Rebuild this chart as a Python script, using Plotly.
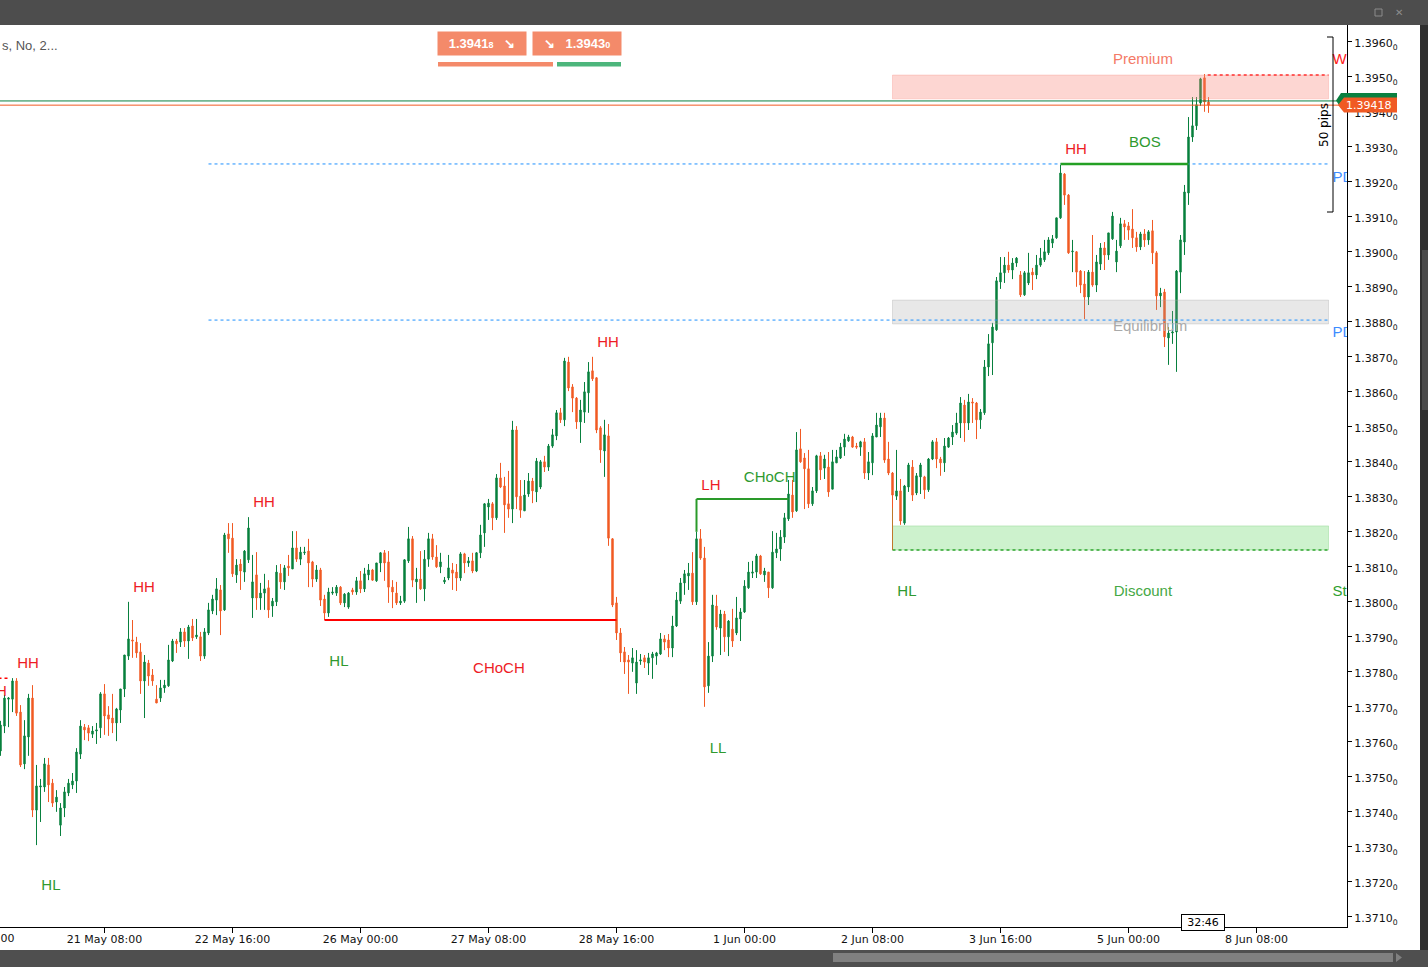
import plotly.graph_objects as go

# ---------------- data ----------------
opens = [
 1.37573,1.37644,1.37721,1.37721,1.37773,1.37684,1.37536,1.37613,1.37724,1.37404,
 1.37470,1.37470,1.37533,1.37481,1.37427,1.37361,1.37410,1.37453,1.37476,1.37487,
 1.37564,1.37641,1.37639,1.37621,1.37630,1.37639,1.37736,1.37676,1.37667,1.37653,
 1.37690,1.37750,1.37844,1.37890,1.37884,1.37856,1.37773,1.37824,1.37790,1.37721,
 1.37724,1.37753,1.37759,1.37830,1.37887,1.37884,1.37913,1.37887,1.37930,1.37899,
 1.37899,1.37844,1.37910,1.37973,1.38004,1.38033,1.37976,1.38193,1.38181,1.38076,
 1.38107,1.38084,1.38119,1.38010,1.38076,1.38010,1.38024,1.38039,1.37987,1.37999,
 1.38081,1.38056,1.38101,1.38093,1.38153,1.38121,1.38139,1.38144,1.38113,1.38064,
 1.38090,1.38007,1.37967,1.38024,1.38024,1.38041,1.37996,1.37984,1.38033,1.38027,
 1.38059,1.38036,1.38076,1.38090,1.38059,1.38110,1.38139,1.38113,1.38041,1.38024,
 1.37996,1.38001,1.38116,1.38179,1.38056,1.38064,1.38036,1.38121,1.38179,1.38127,
 1.38099,1.38056,1.38067,1.38090,1.38084,1.38067,1.38136,1.38110,1.38116,1.38087,
 1.38139,1.38196,1.38270,1.38279,1.38239,1.38353,1.38330,1.38279,1.38264,1.38490,
 1.38301,1.38259,1.38307,1.38344,1.38313,1.38327,1.38399,1.38384,1.38444,1.38473,
 1.38539,1.38519,1.38684,1.38613,1.38581,1.38513,1.38541,1.38596,1.38659,1.38639,
 1.38496,1.38430,1.38473,1.38179,1.37996,1.37910,1.37856,1.37833,1.37824,1.37767,
 1.37830,1.37839,1.37824,1.37839,1.37844,1.37850,1.37893,1.37890,1.37867,1.37930,
 1.38001,1.38053,1.38073,1.38081,1.37999,1.38179,1.38124,1.37759,1.37844,1.37987,
 1.37924,1.37964,1.37899,1.37921,1.37910,1.37950,1.37970,1.38039,1.38081,1.38084,
 1.38130,1.38076,1.38084,1.38039,1.38139,1.38150,1.38184,1.38236,1.38304,1.38259,
 1.38436,1.38410,1.38379,1.38279,1.38316,1.38416,1.38381,1.38384,1.38321,1.38396,
 1.38410,1.38441,1.38459,1.38470,1.38444,1.38441,1.38456,1.38367,1.38396,1.38470,
 1.38499,1.38524,1.38407,1.38367,1.38301,1.38316,1.38224,1.38327,1.38384,1.38310,
 1.38356,1.38356,1.38319,1.38407,1.38456,1.38407,1.38396,1.38441,1.38470,1.38481,
 1.38510,1.38561,1.38510,1.38570,1.38567,1.38519,1.38539,1.38670,1.38739,1.38776,
 1.38913,1.38939,1.38961,1.38947,1.38967,1.38933,1.38876,1.38910,1.38941,1.38933,
 1.38961,1.38976,1.38996,1.39024,1.39039,1.39096,1.39221,1.39161,1.38999,1.38999,
 1.38944,1.38907,1.38870,1.38941,1.38904,1.38964,1.39010,1.38990,1.39036,1.38970,
 1.39016,1.39079,1.39073,1.39064,1.39039,1.39013,1.39050,1.39033,1.39059,1.38996,
 1.38873,1.38884,1.38753,1.38767,1.38770,1.38941,1.39027,1.39167,1.39327,1.39359,
 1.39424,1.39496,1.39427]

highs = [
 1.37659,1.37733,1.37727,1.37781,1.37781,1.37704,1.37661,1.37736,1.37761,1.37533,
 1.37493,1.37553,1.37553,1.37493,1.37461,1.37424,1.37470,1.37493,1.37510,1.37581,
 1.37661,1.37650,1.37647,1.37644,1.37653,1.37741,1.37764,1.37701,1.37736,1.37696,
 1.37750,1.37847,1.37999,1.37947,1.37899,1.37881,1.37847,1.37833,1.37807,1.37761,
 1.37776,1.37776,1.37876,1.37893,1.37893,1.37924,1.37924,1.37933,1.37950,1.37950,
 1.37913,1.37924,1.37996,1.38019,1.38067,1.38047,1.38196,1.38224,1.38224,1.38121,
 1.38121,1.38147,1.38241,1.38133,1.38141,1.38053,1.38079,1.38061,1.38010,1.38104,
 1.38107,1.38104,1.38133,1.38201,1.38201,1.38156,1.38156,1.38179,1.38116,1.38104,
 1.38096,1.38019,1.38039,1.38041,1.38047,1.38044,1.38024,1.38027,1.38039,1.38070,
 1.38087,1.38096,1.38107,1.38093,1.38110,1.38141,1.38147,1.38144,1.38061,1.38056,
 1.38016,1.38121,1.38213,1.38187,1.38096,1.38144,1.38147,1.38196,1.38193,1.38161,
 1.38139,1.38070,1.38133,1.38110,1.38107,1.38141,1.38139,1.38127,1.38139,1.38141,
 1.38219,1.38281,1.38293,1.38284,1.38364,1.38396,1.38356,1.38373,1.38516,1.38501,
 1.38347,1.38347,1.38367,1.38353,1.38410,1.38404,1.38416,1.38450,1.38493,1.38547,
 1.38553,1.38696,1.38699,1.38621,1.38584,1.38576,1.38627,1.38684,1.38699,1.38641,
 1.38501,1.38519,1.38507,1.38181,1.38013,1.37924,1.37870,1.37847,1.37867,1.37861,
 1.37850,1.37847,1.37853,1.37856,1.37856,1.37910,1.37904,1.37907,1.37959,1.38027,
 1.38067,1.38090,1.38110,1.38141,1.38199,1.38207,1.38156,1.37884,1.38019,1.38019,
 1.37976,1.37973,1.37947,1.37979,1.38013,1.37981,1.38061,1.38113,1.38116,1.38136,
 1.38133,1.38096,1.38084,1.38201,1.38196,1.38204,1.38253,1.38347,1.38347,1.38484,
 1.38493,1.38424,1.38433,1.38327,1.38419,1.38427,1.38419,1.38427,1.38433,1.38433,
 1.38453,1.38479,1.38476,1.38473,1.38453,1.38459,1.38467,1.38427,1.38481,1.38539,
 1.38539,1.38539,1.38456,1.38370,1.38433,1.38350,1.38333,1.38396,1.38404,1.38367,
 1.38396,1.38359,1.38410,1.38461,1.38467,1.38413,1.38467,1.38470,1.38504,1.38539,
 1.38584,1.38576,1.38593,1.38581,1.38570,1.38550,1.38690,1.38764,1.38796,1.38927,
 1.38984,1.38984,1.38999,1.38981,1.38984,1.38944,1.38944,1.38996,1.38953,1.38990,
 1.39010,1.39033,1.39041,1.39047,1.39096,1.39247,1.39224,1.39164,1.39033,1.39001,
 1.38947,1.38944,1.38947,1.39047,1.38990,1.39024,1.39027,1.39053,1.39113,1.39033,
 1.39096,1.39090,1.39084,1.39121,1.39056,1.39056,1.39064,1.39061,1.39090,1.39001,
 1.38896,1.38893,1.38784,1.38830,1.38947,1.39047,1.39190,1.39384,1.39441,1.39441,
 1.39496,1.39507,1.39441]

lows = [
 1.37559,1.37624,1.37641,1.37684,1.37673,1.37527,1.37521,1.37559,1.37384,1.37304,
 1.37370,1.37456,1.37427,1.37413,1.37399,1.37330,1.37384,1.37444,1.37464,1.37453,
 1.37550,1.37604,1.37601,1.37610,1.37593,1.37610,1.37619,1.37616,1.37624,1.37601,
 1.37653,1.37727,1.37833,1.37839,1.37839,1.37736,1.37667,1.37759,1.37759,1.37710,
 1.37713,1.37739,1.37756,1.37827,1.37853,1.37870,1.37870,1.37836,1.37887,1.37893,
 1.37830,1.37836,1.37904,1.37964,1.37961,1.37904,1.37973,1.38139,1.38070,1.38053,
 1.38033,1.38056,1.38110,1.37953,1.37976,1.37976,1.37976,1.37953,1.37956,1.37987,
 1.38036,1.38033,1.38073,1.38093,1.38113,1.38104,1.38133,1.38041,1.38041,1.38056,
 1.37987,1.37947,1.37956,1.38019,1.38016,1.37990,1.37984,1.37979,1.38019,1.38019,
 1.38024,1.38027,1.38061,1.38059,1.38056,1.38084,1.38059,1.37996,1.37981,1.37990,
 1.37990,1.37996,1.38110,1.38041,1.37996,1.38033,1.38001,1.38099,1.38119,1.38096,
 1.38081,1.38050,1.38061,1.38033,1.38030,1.38059,1.38081,1.38099,1.38081,1.38084,
 1.38124,1.38156,1.38233,1.38204,1.38233,1.38324,1.38196,1.38239,1.38224,1.38264,
 1.38239,1.38259,1.38299,1.38281,1.38284,1.38321,1.38370,1.38373,1.38439,1.38461,
 1.38510,1.38501,1.38601,1.38541,1.38493,1.38453,1.38510,1.38539,1.38630,1.38481,
 1.38396,1.38356,1.38159,1.37984,1.37890,1.37827,1.37793,1.37736,1.37799,1.37736,
 1.37819,1.37810,1.37790,1.37779,1.37819,1.37847,1.37861,1.37841,1.37841,1.37927,
 1.37993,1.38019,1.38033,1.37990,1.37990,1.38119,1.37699,1.37739,1.37827,1.37919,
 1.37847,1.37856,1.37844,1.37870,1.37904,1.37887,1.37967,1.38036,1.38067,1.38067,
 1.38076,1.38056,1.38010,1.38036,1.38124,1.38116,1.38167,1.38230,1.38239,1.38256,
 1.38396,1.38264,1.38267,1.38273,1.38310,1.38347,1.38350,1.38299,1.38321,1.38396,
 1.38407,1.38416,1.38456,1.38439,1.38436,1.38416,1.38350,1.38347,1.38361,1.38470,
 1.38470,1.38396,1.38361,1.38267,1.38290,1.38219,1.38219,1.38313,1.38287,1.38304,
 1.38307,1.38293,1.38313,1.38404,1.38381,1.38359,1.38370,1.38439,1.38447,1.38476,
 1.38467,1.38456,1.38490,1.38510,1.38464,1.38493,1.38533,1.38644,1.38647,1.38773,
 1.38893,1.38910,1.38939,1.38921,1.38956,1.38870,1.38873,1.38904,1.38890,1.38921,
 1.38956,1.38970,1.38990,1.39010,1.39036,1.39093,1.39133,1.38993,1.38941,1.38899,
 1.38881,1.38807,1.38847,1.38899,1.38884,1.38947,1.38947,1.38976,1.39033,1.38941,
 1.39010,1.39033,1.39033,1.39010,1.38999,1.39004,1.39013,1.39019,1.38964,1.38833,
 1.38841,1.38727,1.38676,1.38736,1.38656,1.38881,1.38990,1.39133,1.39313,1.39347,
 1.39416,1.39399,1.39396]

closes = [
 1.37647,1.37724,1.37724,1.37773,1.37681,1.37533,1.37616,1.37724,1.37404,1.37473,
 1.37473,1.37536,1.37476,1.37424,1.37441,1.37410,1.37456,1.37481,1.37487,1.37570,
 1.37644,1.37633,1.37624,1.37630,1.37633,1.37736,1.37673,1.37664,1.37653,1.37693,
 1.37750,1.37847,1.37893,1.37887,1.37853,1.37773,1.37827,1.37787,1.37773,1.37710,
 1.37753,1.37761,1.37833,1.37887,1.37879,1.37913,1.37887,1.37927,1.37896,1.37904,
 1.37844,1.37913,1.37976,1.38007,1.38036,1.37973,1.38190,1.38179,1.38079,1.38104,
 1.38087,1.38144,1.38210,1.38056,1.38010,1.38024,1.38036,1.37976,1.38001,1.38084,
 1.38056,1.38096,1.38096,1.38153,1.38121,1.38141,1.38141,1.38110,1.38064,1.38090,
 1.38004,1.37967,1.38027,1.38027,1.38041,1.37996,1.38021,1.38024,1.38027,1.38059,
 1.38036,1.38079,1.38090,1.38061,1.38110,1.38139,1.38110,1.38041,1.38027,1.37996,
 1.38001,1.38119,1.38179,1.38061,1.38064,1.38036,1.38121,1.38179,1.38127,1.38099,
 1.38113,1.38061,1.38096,1.38081,1.38067,1.38136,1.38110,1.38116,1.38087,1.38139,
 1.38190,1.38279,1.38281,1.38239,1.38353,1.38327,1.38276,1.38264,1.38490,1.38299,
 1.38261,1.38304,1.38344,1.38316,1.38401,1.38399,1.38384,1.38444,1.38476,1.38539,
 1.38519,1.38687,1.38610,1.38581,1.38513,1.38547,1.38599,1.38656,1.38636,1.38490,
 1.38433,1.38476,1.38181,1.37990,1.37910,1.37853,1.37827,1.37827,1.37839,1.37827,
 1.37833,1.37827,1.37839,1.37850,1.37853,1.37893,1.37884,1.37867,1.37930,1.38004,
 1.38053,1.38079,1.38081,1.37999,1.38179,1.38124,1.37756,1.37844,1.37990,1.37927,
 1.37964,1.37899,1.37944,1.37887,1.37953,1.37970,1.38044,1.38084,1.38084,1.38130,
 1.38079,1.38087,1.38039,1.38141,1.38150,1.38184,1.38239,1.38307,1.38256,1.38433,
 1.38399,1.38379,1.38279,1.38316,1.38416,1.38376,1.38407,1.38313,1.38399,1.38413,
 1.38441,1.38464,1.38470,1.38441,1.38441,1.38456,1.38367,1.38399,1.38473,1.38504,
 1.38524,1.38404,1.38367,1.38304,1.38316,1.38230,1.38330,1.38390,1.38304,1.38359,
 1.38390,1.38319,1.38407,1.38456,1.38407,1.38396,1.38444,1.38467,1.38484,1.38510,
 1.38567,1.38510,1.38570,1.38567,1.38519,1.38541,1.38670,1.38736,1.38784,1.38916,
 1.38939,1.38961,1.38947,1.38967,1.38981,1.38876,1.38939,1.38939,1.38933,1.38961,
 1.38981,1.38999,1.39033,1.39036,1.39096,1.39224,1.39161,1.38996,1.39001,1.38941,
 1.38904,1.38870,1.38941,1.38904,1.38970,1.39010,1.38990,1.39053,1.39101,1.39001,
 1.39079,1.39070,1.39061,1.39039,1.39013,1.39050,1.39033,1.39056,1.38996,1.38873,
 1.38881,1.38756,1.38767,1.38770,1.38944,1.39033,1.39170,1.39327,1.39359,1.39419,
 1.39493,1.39427,1.39418]

x_tick_index = [26, 58, 90, 122, 154, 186, 218, 250, 282, 314]
x_tick_labels = ["21 May 08:00", "22 May 16:00", "26 May 00:00", "27 May 08:00",
                 "28 May 16:00", "1 Jun 00:00", "2 Jun 08:00", "3 Jun 16:00",
                 "5 Jun 00:00", "8 Jun 08:00"]
y_tick_values = [1.3710, 1.3720, 1.3730, 1.3740, 1.3750, 1.3760, 1.3770, 1.3780,
                 1.3790, 1.3800, 1.3810, 1.3820, 1.3830, 1.3840, 1.3850, 1.3860,
                 1.3870, 1.3880, 1.3890, 1.3900, 1.3910, 1.3920, 1.3930, 1.3940,
                 1.3950, 1.3960]

bid_price = 1.39418
ask_price = 1.39430

# market-structure labels
bear_text = ["HH", "HH", "HH", "HH", "HH", "HH", "LH", "CHoCH"]
bear_index = [-1.1, 6.9, 35.9, 65.9, 151.9, 268.9, 177.6, 124.6]
bear_price = [1.37741, 1.37821, 1.38039, 1.38281, 1.38739, 1.39290, 1.38330, 1.37807]
bull_text = ["HL", "HL", "HL", "LL", "CHoCH", "BOS"]
bull_index = [12.6, 84.6, 226.6, 179.4, 192.3, 286.1]
bull_price = [1.37187, 1.37827, 1.38027, 1.37579, 1.38353, 1.39310]

# premium / equilibrium / discount labels
zone_text = ["Premium", "Equilibrium", "Discount"]
zone_label_index = [285.6, 287.4, 285.6]
zone_label_price = [1.39547, 1.38784, 1.38027]
# labels at the right edge (cut by the price axis)
edge_text = ["WH", "PDH", "PDL", "Strong"]
edge_label_price = [1.39547, 1.39210, 1.38767, 1.38027]

# structure levels / zones
choch_start, choch_end = 81, 154
lh_start, lh_end, lh_price = 174, 197, 1.38293
bos_start, bos_end, bos_price = 265, 297, 1.39250
pdh_price, pdl_price, pd_start = 1.39250, 1.38804, 52
zone_start, zone_end = 223, 332
premium_low, premium_high = 1.39436, 1.39504
equil_low, equil_high = 1.38793, 1.38861
discount_low, discount_high = 1.38147, 1.38216
prev_high_index = 3

GREEN = "#08803E"
RED = "#F15A24"
LBL_RED = "#EE1C25"
LBL_GREEN = "#2F9A2F"

# ---------------- figure ----------------
idx = list(range(len(opens)))
fig = go.Figure()
fig.add_trace(go.Candlestick(
    x=idx, open=opens, high=highs, low=lows, close=closes,
    increasing=dict(line=dict(color=GREEN, width=1), fillcolor=GREEN),
    decreasing=dict(line=dict(color=RED, width=1), fillcolor=RED),
    whiskerwidth=0, hoverinfo="skip", showlegend=False))

LBL_FONT = "Liberation Sans, Arial, sans-serif"
fig.add_trace(go.Scatter(x=bear_index, y=bear_price, mode="text", text=bear_text,
                         textposition="middle center",
                         textfont=dict(family=LBL_FONT, size=15, color=LBL_RED),
                         hoverinfo="skip", showlegend=False))
fig.add_trace(go.Scatter(x=bull_index, y=bull_price, mode="text", text=bull_text,
                         textposition="middle center",
                         textfont=dict(family=LBL_FONT, size=15, color=LBL_GREEN),
                         hoverinfo="skip", showlegend=False))
fig.add_trace(go.Scatter(
    x=zone_label_index, y=zone_label_price, mode="text",
    text=zone_text, textposition="middle center",
    textfont=dict(family=LBL_FONT, size=15, color=["#F47A66", "#A9A9A9", "#45A845"]),
    hoverinfo="skip", showlegend=False))
fig.add_trace(go.Scatter(
    x=[333.0] * len(edge_text), y=edge_label_price, mode="text",
    text=edge_text, textposition="middle right",
    textfont=dict(family=LBL_FONT, size=15, color=["#FF2020", "#3C8CFF", "#3C8CFF", "#2E9E2E"]),
    hoverinfo="skip", showlegend=False))

shapes = []
def dline(x0, y0, x1, y1, color, width=1, dash="solid"):
    shapes.append(dict(type="line", xref="x", yref="y", x0=x0, y0=y0, x1=x1, y1=y1,
                       line=dict(color=color, width=width, dash=dash)))

# zones (semi-transparent overlays)
shapes.append(dict(type="rect", xref="x", yref="y", x0=zone_start, x1=zone_end,
                   y0=premium_low, y1=premium_high, fillcolor="rgba(248,128,114,0.32)",
                   line=dict(color="rgba(248,150,140,0.35)", width=1)))
shapes.append(dict(type="rect", xref="x", yref="y", x0=zone_start, x1=zone_end,
                   y0=equil_low, y1=equil_high, fillcolor="rgba(160,160,160,0.24)",
                   line=dict(color="rgba(170,170,170,0.35)", width=1)))
shapes.append(dict(type="rect", xref="x", yref="y", x0=zone_start, x1=zone_end,
                   y0=discount_low, y1=discount_high, fillcolor="rgba(100,215,100,0.32)",
                   line=dict(color="rgba(100,200,100,0.3)", width=1)))
dline(zone_start, discount_low, zone_end, discount_low, "#2FA52F", 1.5, "dot")
dline(301.8, premium_high, zone_end, premium_high, "#FF3030", 1.5, "dot")
dline(zone_start, lows[zone_start], zone_start, discount_low, "#C0782A", 1)

# PDH / PDL dotted
dline(pd_start, pdh_price, zone_end, pdh_price, "#1E90FF", 1, "dot")
dline(pd_start, pdl_price, zone_end, pdl_price, "#1E90FF", 1, "dot")

# structure lines
dline(choch_start, lows[choch_start], choch_end, lows[choch_start], "#FF0000", 2)
dline(lh_start, highs[lh_start], lh_start, lh_price, "#2A9A2A", 2)
dline(lh_start, lh_price, lh_end, lh_price, "#2A9A2A", 2)
dline(bos_start, bos_price, bos_end, bos_price, "#24A024", 2.5)
dline(-2, highs[prev_high_index], prev_high_index - 0.6, highs[prev_high_index], "#FF0000", 1.5, "dot")

# bid / ask lines
shapes.append(dict(type="line", xref="paper", yref="y", x0=0, x1=1, y0=ask_price, y1=ask_price,
                   line=dict(color="#0A8040", width=1)))
shapes.append(dict(type="line", xref="paper", yref="y", x0=0, x1=1, y0=bid_price, y1=bid_price,
                   line=dict(color="#F05A24", width=1)))

# ---- window chrome (pixel -> paper helpers) ----
PW, PH, PB = 1347.0, 902.0, 927.0
def xp(px): return px / PW
def yp(py): return (PB - py) / PH
def prect(x0, y0, x1, y1, color):
    shapes.append(dict(type="rect", xref="paper", yref="paper", x0=xp(x0), x1=xp(x1),
                       y0=yp(y1), y1=yp(y0), fillcolor=color, line=dict(width=0), layer="above"))
def ppath(pts, color):
    d = "M " + " L ".join(f"{xp(a)},{yp(b)}" for a, b in pts) + " Z"
    shapes.append(dict(type="path", xref="paper", yref="paper", path=d,
                       fillcolor=color, line=dict(width=0)))

prect(0, 0, 1428, 25, "#4D4D4D")
prect(0, 950, 1428, 967, "#4F4F4F")
prect(1420, 25, 1428, 950, "#2F2F2F")
prect(1422, 250, 1428, 410, "#4A4A4A")
prect(833, 953, 1393, 962, "#808080")
ppath([(1396, 953), (1402, 957.5), (1396, 962)], "#808080")
shapes.append(dict(type="rect", xref="paper", yref="paper", x0=xp(1375), x1=xp(1382),
                   y0=yp(16), y1=yp(9), line=dict(color="#8C8C8C", width=1)))

# bid/ask tags
ppath([(1336, 100.5), (1341, 93), (1397, 93), (1397, 108), (1341, 108)], "#0A8040")
ppath([(1338, 105), (1344, 97.5), (1397, 97.5), (1397, 112.5), (1344, 112.5)], "#F05A24")
# top buttons' underline bars
prect(438, 62, 553, 66.5, "#F48A6A")
prect(557, 62, 621, 66.5, "#4DB67C")
# 50 pips bracket
shapes.append(dict(type="path", xref="paper", yref="paper",
                   path=f"M {xp(1327)},{yp(37)} L {xp(1333)},{yp(37)} L {xp(1333)},{yp(212)} L {xp(1327)},{yp(212)}",
                   line=dict(color="black", width=1)))
# countdown box pointer
ppath([(1202, 913.5), (1208, 908), (1214, 913.5)], "white")

annotations = []
def pann(text, x, y, **kw):
    d = dict(text=text, xref="paper", yref="paper", x=xp(x), y=yp(y), showarrow=False,
             xanchor="center", yanchor="middle")
    d.update(kw)
    annotations.append(d)

AX_FONT = "DejaVu Sans, sans-serif"
pann("1.39418", 1369, 105, font=dict(family=AX_FONT, size=11, color="white"))
pann("<b>1.3941<span style='font-size:9px'>8</span>   ↘</b>", 482, 43.5,
     font=dict(family=LBL_FONT, size=13, color="white"), bgcolor="#F48A6A",
     width=84, height=19, borderpad=2)
pann("<b>↘   1.3943<span style='font-size:9px'>0</span></b>", 577, 43.5,
     font=dict(family=LBL_FONT, size=13, color="white"), bgcolor="#F48A6A",
     width=84, height=19, borderpad=2)
pann("s, No, 2...", 0, 45, xanchor="left",
     font=dict(family=LBL_FONT, size=13, color="#555555"))
pann("50 pips", 1324, 125, textangle=-90, font=dict(family=AX_FONT, size=12, color="black"))
pann("32:46", 1203, 922, font=dict(family=AX_FONT, size=11, color="black"),
     bgcolor="white", bordercolor="black", borderwidth=1, borderpad=1, width=40)
pann("20 May 00:00", -23.5, 938, font=dict(family=AX_FONT, size=11, color="#111111"))
pann("✕", 1399, 12, font=dict(family=AX_FONT, size=10, color="#8C8C8C"))

fig.update_layout(
    width=1428, height=967,
    margin=dict(l=0, r=81, t=25, b=40),
    paper_bgcolor="white", plot_bgcolor="white",
    showlegend=False, boxgap=0.5,
    shapes=shapes, annotations=annotations,
    xaxis=dict(range=[-0.125, 336.625], tickmode="array", tickvals=x_tick_index,
               ticktext=x_tick_labels, showgrid=False, zeroline=False, showline=True,
               linecolor="black", linewidth=1, ticks="outside", ticklen=5, tickcolor="black",
               ticklabelstandoff=-3,
               tickfont=dict(family=AX_FONT, size=11, color="#111111"),
               rangeslider=dict(visible=False), fixedrange=True),
    yaxis=dict(side="right", range=[1.37070, 1.39647], tickmode="array",
               tickvals=y_tick_values,
               ticktext=[f"{v:.4f}<sub>0</sub>" for v in y_tick_values],
               showgrid=False, zeroline=False, showline=True, linecolor="black",
               linewidth=1, ticks="outside", ticklen=4, tickcolor="black",
               ticklabelshift=2,
               tickfont=dict(family=AX_FONT, size=11, color="#111111"), fixedrange=True),
)

fig.write_html("out.html", config={"displayModeBar": False})
